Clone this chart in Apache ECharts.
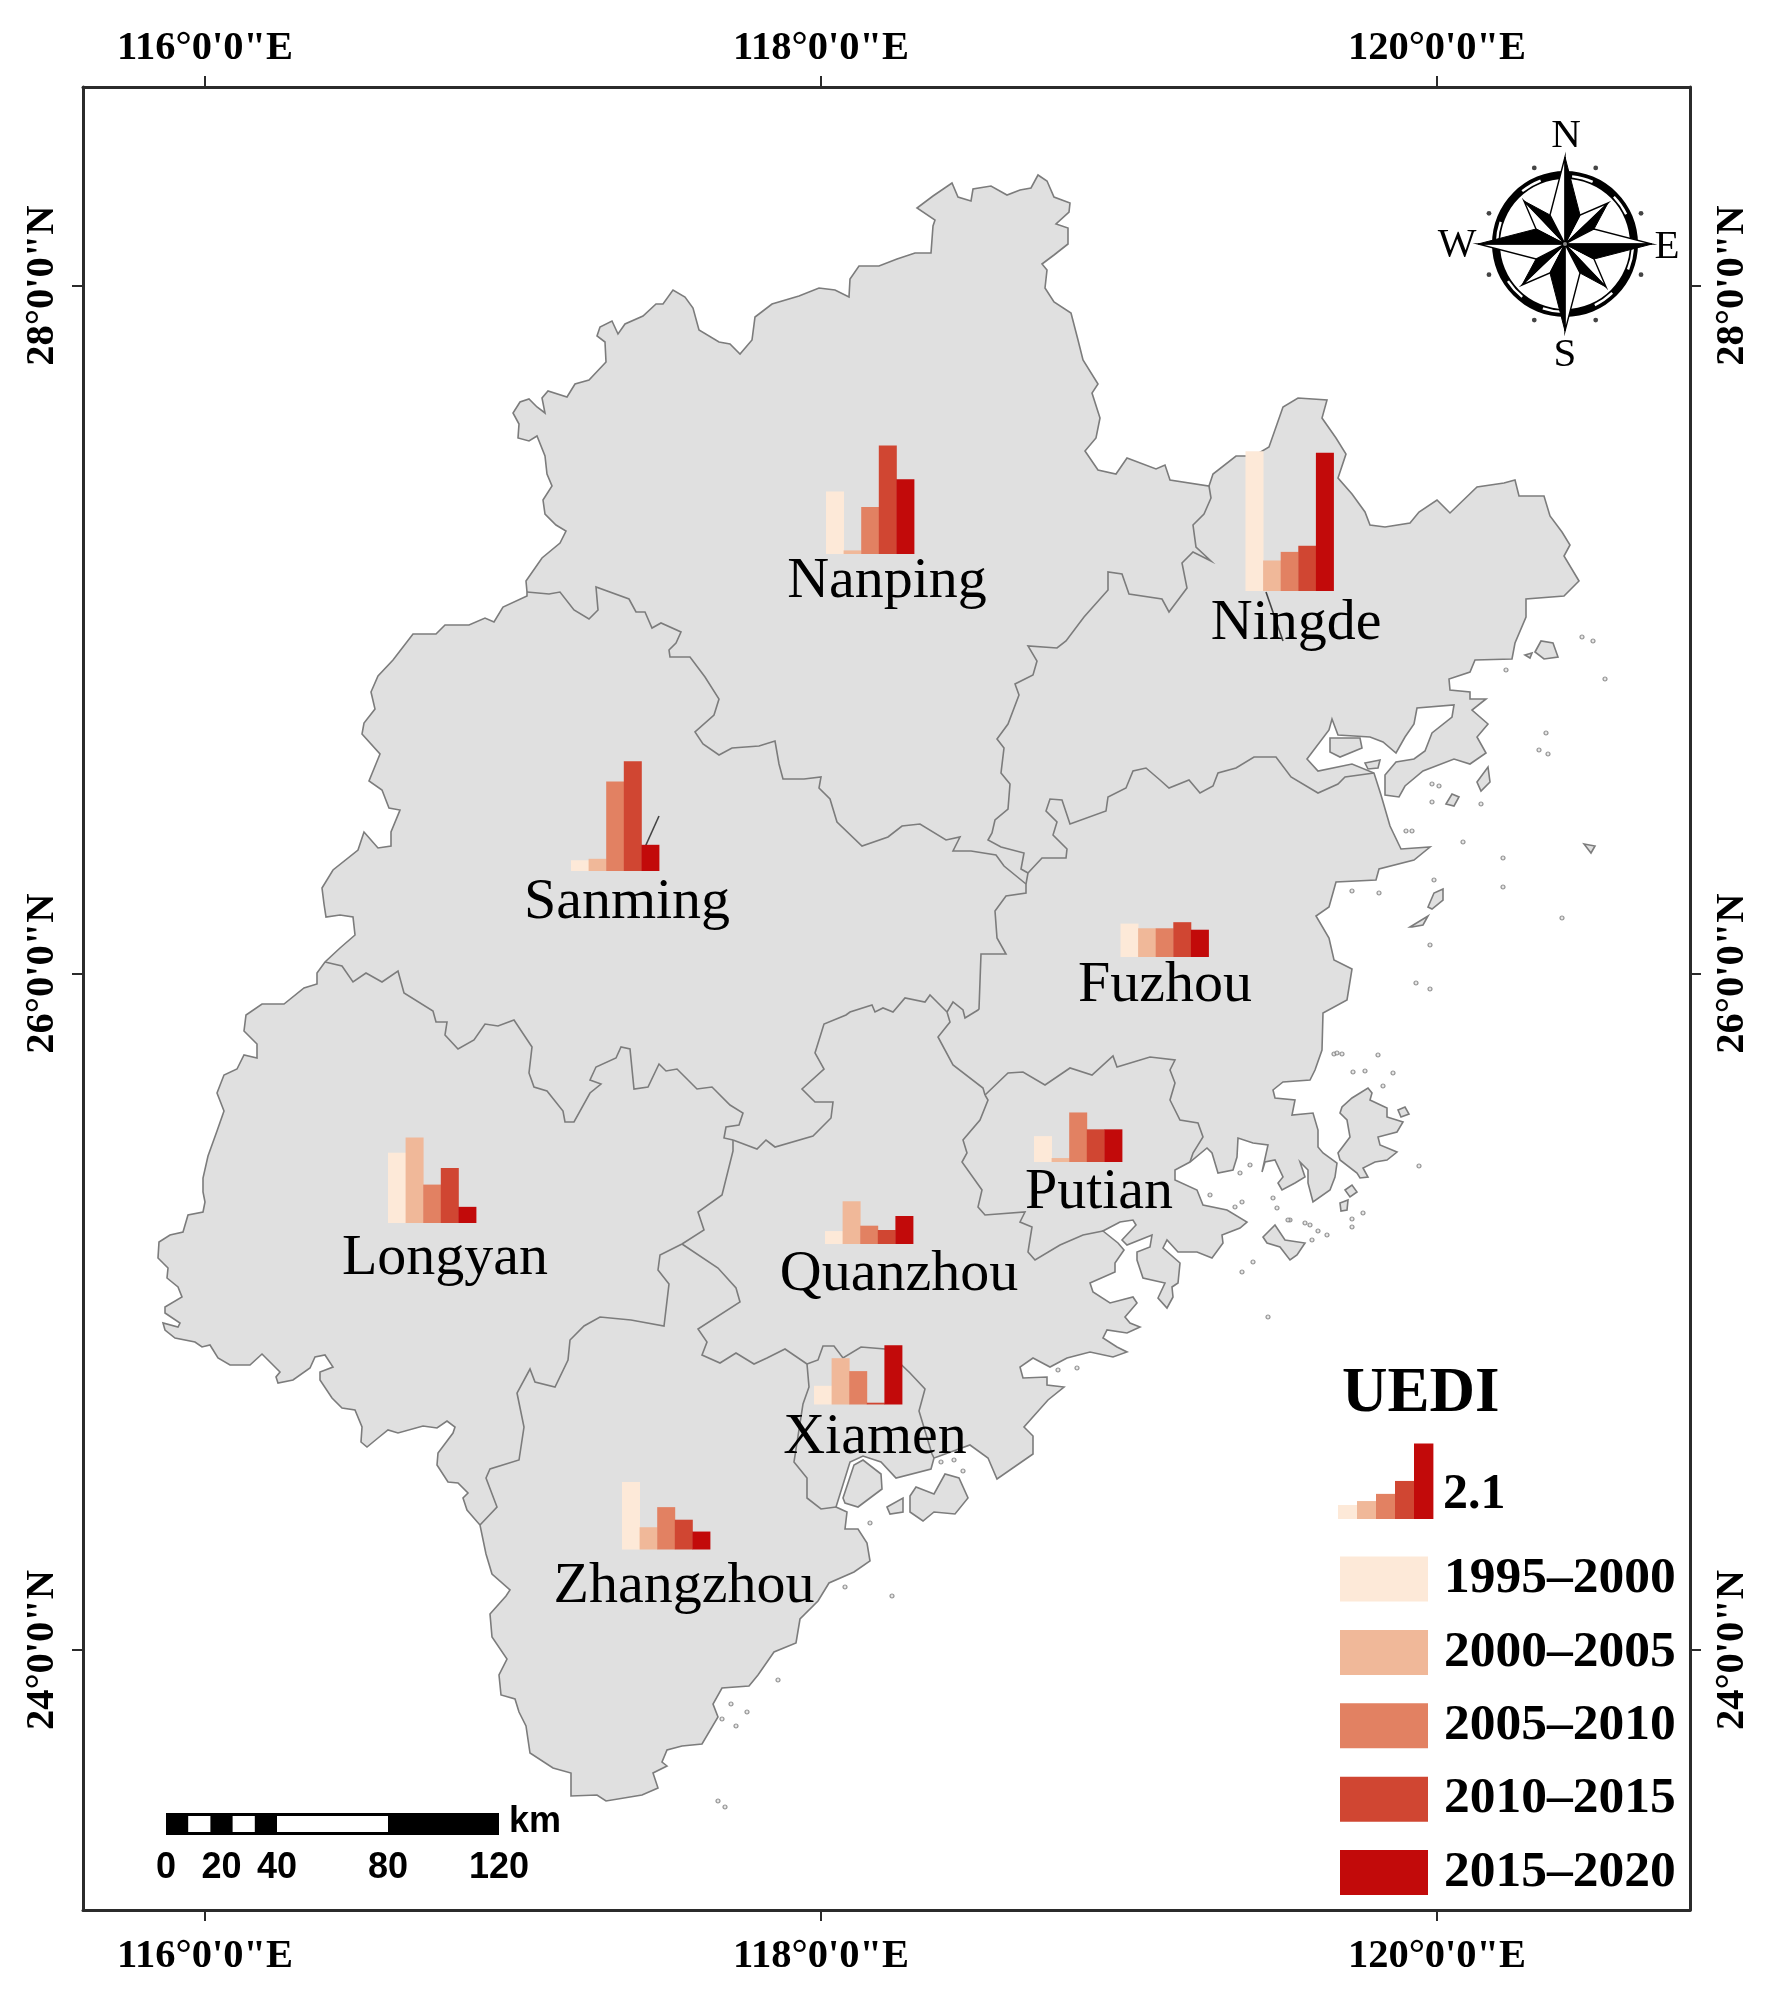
<!DOCTYPE html>
<html><head><meta charset="utf-8">
<style>html,body{margin:0;padding:0;background:#fff}#c{width:1771px;height:2000px}</style>
<script src="https://cdn.jsdelivr.net/npm/echarts@6/dist/echarts.min.js"></script>
</head><body><div id="c"></div>
<script>
// ---------- DATA ----------
const periods = ['1995–2000','2000–2005','2005–2010','2010–2015','2015–2020'];
const periodColors = ['#FDE9D8','#F0B899','#E28162','#D04632','#C20A0A'];
const cityNames = ['Nanping','Ningde','Sanming','Fuzhou','Putian','Longyan','Quanzhou','Xiamen','Zhangzhou'];
const uedi1995 = [1.74,3.89,0.30,0.93,0.72,1.96,0.36,0.52,1.88];
const uedi2000 = [0.10,0.85,0.34,0.80,0.11,2.38,1.19,1.29,0.62];
const uedi2005 = [1.31,1.09,2.49,0.80,1.38,1.07,0.51,0.93,1.18];
const uedi2010 = [3.02,1.26,3.06,0.97,0.91,1.53,0.39,0.05,0.83];
const uedi2015 = [2.08,3.85,0.73,0.76,0.91,0.45,0.78,1.65,0.50];
const keyValues = [0.39,0.50,0.70,1.06,2.10];
const lonTicks = [116,118,120];
const lonLabels = ['116°0\'0"E','118°0\'0"E','120°0\'0"E'];
const latTicks = [28,26,24];
const latLabels = ['28°0\'0"N','26°0\'0"N','24°0\'0"N'];
const scaleKm = [0,8,16,24,32,40,80,120];
const scaleLabels = [0,20,40,80,120];

// Map geometry, digitised in map-sheet units (converted to lon / Mercator northing below)
const barAnchors = [[826,554],[1245.5,591],[571,871],[1120.5,957],[1034,1162],[388,1223],[825,1244],[814,1404.5],[622,1549.5]];
const labelAnchors = [[887,598],[1296,640],[627,919],[1165,1002],[1099,1209],[445,1275],[899,1291],[875,1454],[684,1603]];
const keyAnchor = [1338,1519];
const outerCoast = [
527,592,526,581,542,558,560,543,566,531,556,525,545,514,543,500,552,486,547,474,545,456,537,436,529,441,518,438,519,424,513,413,520,402,529,399,537,407,545,413,542,398,548,391,567,397,575,384,589,380,606,362,605,342,597,336,600,327,612,321,618,334,625,324,643,316,656,304,663,304,673,290,685,297,693,308,699,330,719,342,730,344,740,354,752,340,755,317,772,304,799,296,819,288,835,290,849,297,850,279,859,266,879,266,897,259,915,253,931,253,933,226,935,220,917,208,933,196,952,183,958,197,971,201,973,189,991,186,1007,195,1020,190,1031,188,1038,175,1047,181,1054,197,1070,203,1069,212,1056,224,1068,228,1068,244,1054,255,1042,264,1047,270,1045,288,1054,302,1071,313,1078,340,1083,360,1098,384,1092,393,1100,418,1096,438,1085,451,1098,470,1116,474,1127,458,1156,469,1165,465,1170,480,1209,486,
1213,474,1236,456,1254,456,1269,447,1283,407,1298,398,1327,400,1322,418,1336,438,1346,454,1338,478,1352,494,1365,512,1370,525,1385,527,1410,523,1419,512,1437,500,1450,513,1477,487,1504,483,1515,480,1519,496,1544,496,1550,516,1562,532,1570,545,1564,556,1579,581,1564,596,1526,599,1526,617,1515,643,1512,659,1475,660,1470,672,1449,679,1450,690,1470,692,1470,699,1486,699,1472,710,1488,724,1477,737,1486,753,1470,764,1454,759,1423,771,1405,786,1399,797,1385,795,1385,775,1396,762,1414,759,1425,751,1432,733,1452,717,1454,705,1417,708,1414,724,1405,737,1396,753,1383,742,1370,737,1338,735,1332,719,1329,730,1307,759,1318,771,1352,764,1374,773,1381,795,1390,826,1401,849,1430,847,1414,860,1379,869,1376,880,1336,882,1329,907,1316,916,1329,938,1334,960,1352,969,1347,1000,1323,1013,1322,1050,1315,1070,1310,1080,1283,1082,1273,1090,1275,1098,1295,1100,1292,1115,1313,1113,1318,1130,1318,1147,1323,1153,1337,1163,1335,1177,1330,1190,1313,1202,1308,1183,1308,1170,1300,1162,1305,1177,1295,1183,1282,1190,1278,1183,1283,1177,1275,1160,1265,1162,1262,1172,1268,1145,1253,1143,1238,1138,1237,1157,1233,1170,1218,1173,1212,1153,1207,1148,1190,1162,1175,1170,1175,1180,1197,1190,1203,1205,1227,1210,1247,1222,1240,1228,1222,1235,1223,1243,1212,1258,1197,1252,1178,1252,1167,1240,1163,1248,1180,1263,1178,1283,1172,1287,1173,1297,1167,1308,1158,1298,1165,1283,1143,1278,1137,1260,1137,1252,1150,1247,1152,1235,1127,1245,1122,1240,1136,1225,1133,1220,1120,1222,1103,1231,1118,1243,1124,1250,1115,1263,1115,1272,1090,1283,1093,1292,1110,1303,1133,1297,1137,1303,1125,1317,1130,1323,1140,1327,1127,1333,1107,1330,1103,1338,1117,1347,1127,1352,1113,1357,1090,1352,1067,1358,1050,1367,1033,1358,1020,1367,1023,1378,1047,1377,1047,1385,1064,1387,1048,1400,1024,1427,1033,1436,1033,1454,997,1479,988,1458,970,1445,934,1458,931,1469,896,1478,881,1462,863,1456,850,1462,836,1507,847,1512,845,1529,858,1529,867,1543,870,1561,854,1572,829,1583,818,1601,800,1619,796,1643,774,1652,758,1675,749,1686,722,1688,713,1704,718,1717,702,1744,682,1746,667,1750,662,1762,667,1766,653,1773,658,1788,642,1795,606,1801,597,1795,571,1796,571,1773,553,1768,530,1753,526,1726,519,1712,515,1699,501,1695,499,1675,507,1659,492,1637,490,1614,506,1596,510,1590,492,1574,486,1554,480,1525,
467,1510,463,1498,468,1493,458,1483,448,1482,437,1465,438,1453,453,1433,455,1427,447,1421,437,1428,423,1426,398,1433,388,1430,378,1438,367,1447,361,1442,362,1427,355,1410,342,1408,332,1398,320,1380,320,1372,333,1367,325,1355,315,1357,310,1368,293,1380,278,1383,276,1377,280,1372,262,1354,250,1365,230,1365,218,1358,210,1345,202,1347,195,1342,175,1338,165,1330,163,1323,178,1327,180,1323,165,1313,165,1307,182,1297,178,1287,167,1278,168,1268,158,1258,159,1242,170,1235,183,1232,188,1215,203,1212,205,1202,203,1192,203,1178,208,1156,217,1131,224,1111,217,1093,224,1075,237,1069,244,1055,257,1058,257,1044,244,1031,246,1015,262,1004,284,1004,304,988,317,984,317,973,325,962,340,948,355,935,353,917,340,915,326,917,324,904,322,888,333,870,358,850,364,832,378,848,391,846,391,832,400,810,389,808,382,790,369,781,380,754,362,734,364,723,375,709,371,692,378,676,393,660,413,634,436,634,445,625,469,625,485,618,494,622,503,607,527,596];
const nanpingSanming = [527,592,549,594,560,592,574,610,589,619,598,610,596,587,629,599,636,612,645,612,652,628,661,623,681,632,676,643,669,650,670,657,690,657,705,677,719,699,714,715,695,732,703,744,719,755,732,748,759,746,775,741,779,764,783,779,804,779,821,777,819,788,830,799,837,822,862,846,888,837,902,826,920,824,946,840,960,837,953,851,971,851,996,855,1004,866,1026,884];
const nanpingNingde = [1209,486,1211,498,1204,514,1193,525,1196,547,1211,561,1193,552,1182,563,1187,588,1169,612,1162,599,1129,594,1122,574,1108,572,1108,590,1084,617,1066,641,1057,648,1028,646,1037,661,1033,675,1015,684,1019,695,1008,724,997,739,1004,748,1001,773,1010,784,1008,809,995,820,992,833,988,840,1001,847,1024,853,1021,869,1028,873,1026,884];
const sanmingFuzhou = [1026,884,1026,893,1006,896,995,911,997,938,1006,954,981,954,979,1009,978,1010,965,1018,963,1010,953,1002,947,1012];
const fuzhouNingde = [1028,873,1042,858,1066,858,1067,849,1053,835,1057,822,1046,811,1050,799,1062,800,1070,824,1106,811,1108,797,1126,788,1133,771,1146,768,1160,780,1169,788,1189,780,1200,793,1213,786,1218,773,1236,768,1254,757,1276,757,1291,777,1318,793,1338,784,1345,777,1374,773];
const sanmingQuanzhou = [947,1012,930,995,925,1002,905,998,893,1012,883,1008,875,1012,872,1005,850,1012,846,1015,824,1024,815,1053,824,1069,802,1089,815,1102,833,1102,831,1118,813,1136,775,1147,766,1140,757,1149,733,1140];
const sanmingLongyan = [325,962,342,966,353,982,366,973,382,982,398,971,404,993,433,1011,436,1022,447,1022,445,1035,458,1049,474,1040,485,1024,498,1026,514,1020,532,1047,529,1073,534,1087,547,1091,563,1111,565,1122,574,1122,590,1093,601,1084,590,1080,596,1067,616,1058,621,1047,630,1049,634,1089,648,1087,659,1064,666,1071,677,1069,697,1089,712,1087,730,1105,743,1113,739,1125,726,1127,724,1138,733,1140];
const longyanQuanzhou = [733,1140,733,1151,722,1195,698,1212,704,1230,682,1244];
const quanzhouZhangzhou = [682,1244,718,1268,736,1288,740,1302,698,1329,707,1342,702,1355,720,1363,736,1353,754,1364,767,1358,785,1349,807,1364];
const xiamenQuanzhou = [807,1364,818,1360,823,1346,834,1346,843,1358,861,1347,885,1349,910,1373,925,1389,919,1411,932,1454,934,1458];
const xiamenZhangzhou = [807,1364,809,1387,803,1404,794,1462,807,1478,807,1498,821,1509,836,1507];
const longyanZhangzhou = [682,1244,660,1255,658,1270,669,1284,664,1326,631,1320,600,1317,584,1326,570,1340,568,1360,555,1387,535,1382,530,1369,517,1393,524,1427,519,1460,490,1469,486,1478,497,1507,480,1525];
const fuzhouQuanzhou = [947,1012,950,1022,938,1037,953,1065,983,1088,985,1095];
const quanzhouPutian = [985,1095,988,1100,980,1120,963,1140,967,1153,962,1162,982,1190,978,1207,985,1215,1025,1212,1020,1222,1032,1227,1028,1252,1035,1260,1060,1245,1083,1235,1103,1231];
const fuzhouPutian = [985,1095,1008,1073,1023,1072,1045,1085,1070,1068,1092,1075,1113,1056,1117,1067,1150,1057,1175,1060,1170,1070,1175,1083,1170,1100,1180,1120,1198,1123,1203,1137,1193,1153,1190,1162];
const leaderLines = [[659,816,645.5,846],[1266,592,1283,641]];
const islands = [
[843,1498,854,1465,863,1460,881,1474,882,1489,858,1507,845,1503],
[910,1496,916,1487,934,1494,945,1474,959,1478,968,1498,955,1514,934,1512,923,1521,910,1512],
[887,1507,903,1498,903,1512,890,1514],
[1340,1113,1342,1107,1352,1098,1368,1088,1372,1093,1370,1100,1387,1108,1387,1117,1403,1122,1397,1132,1378,1137,1380,1145,1397,1152,1387,1160,1375,1162,1363,1168,1368,1177,1360,1178,1357,1173,1340,1160,1338,1153,1350,1137,1347,1120],
[1263,1237,1275,1225,1285,1240,1305,1243,1297,1255,1290,1260,1280,1247,1267,1243],
[1345,1190,1352,1185,1357,1192,1350,1197],[1340,1203,1348,1200,1347,1210,1341,1211],
[1398,1110,1405,1107,1409,1114,1401,1117],
[1535,652,1541,641,1553,643,1558,657,1544,659],[1525,655,1532,653,1530,658],
[1446,804,1452,794,1459,797,1454,806],[1477,782,1488,767,1490,782,1481,791],
[1410,927,1428,916,1423,925,1412,927],[1428,907,1434,893,1443,889,1443,900,1432,909],
[1584,844,1595,846,1591,853],
[1330,738,1360,738,1362,748,1340,757,1330,752],[1365,763,1380,760,1378,768,1368,769]];
const islets = [[1406,831],[1412,831],[1503,858],[1434,880],[1503,887],[1463,842],[1430,945],[1416,983],[1430,989],[1334,1054],[1342,1054],[1352,891],[1379,893],[1582,637],[1593,641],[1605,679],[1562,918],[1546,733],[1539,750],[1548,754],[1481,804],[1506,670],[1432,784],[1439,786],[1432,802],[1337,1053],[1353,1072],[1365,1071],[1393,1073],[1383,1086],[1419,1166],[1378,1055],[1273,1198],[1277,1208],[1290,1220],[1310,1225],[1318,1231],[1327,1235],[1352,1219],[1352,1227],[1363,1213],[1250,1165],[1240,1173],[1242,1272],[1253,1262],[1268,1317],[1210,1195],[1242,1202],[1235,1207],[1288,1220],[1305,1223],[1312,1240],[1058,1370],[1077,1368],[941,1462],[954,1460],[963,1471],[870,1523],[892,1596],[845,1587],[778,1680],[731,1704],[747,1712],[736,1726],[722,1719],[718,1801],[725,1807]];

// ---------- PROJECTION (sheet units -> lon / Mercator northing) ----------
const merc = lat => Math.log(Math.tan(Math.PI/4 + lat*Math.PI/360));
const mercPerUnit = (merc(28)-merc(24))/(1650-285.6);
const toLon = u => 116 + (u-205)/308;
const toNorth = v => merc(24) + (1650-v)*mercPerUnit;
const pairs = flat => { const o=[]; for(let i=0;i<flat.length;i+=2) o.push([toLon(flat[i]),toNorth(flat[i+1])]); return o; };

const FILL='#E0E0E0', LINE='#7C7C7C', SERIF='"Liberation Serif"', SANS='"Liberation Sans"';
const uediSeries = [uedi1995,uedi2000,uedi2005,uedi2010,uedi2015];
const UNITS_PER_UEDI = 35.9, CITY_BAR = 17.6, KEY_BAR = 19;

const areas = [outerCoast,...islands].map(pairs);
const lines = [nanpingSanming,nanpingNingde,sanmingFuzhou,fuzhouNingde,sanmingQuanzhou,sanmingLongyan,longyanQuanzhou,quanzhouZhangzhou,xiamenQuanzhou,xiamenZhangzhou,longyanZhangzhou,fuzhouQuanzhou,quanzhouPutian,fuzhouPutian].map(pairs);
const leaders = leaderLines.map(pairs);

const areaSeries = {type:'custom',name:'map',silent:true,z:1,encode:{x:0,y:1},
  data:areas.map((a,i)=>[a[0][0],a[0][1],i]),
  renderItem:(p,api)=>({type:'polygon',shape:{points:areas[api.value(2)].map(c=>api.coord(c))},style:{fill:FILL,stroke:LINE,lineWidth:1.6}})};
const isletSeries = {type:'scatter',name:'islets',silent:true,z:1,symbol:'circle',symbolSize:4,
  itemStyle:{color:FILL,borderColor:LINE,borderWidth:1.2},
  data:islets.map(p=>[toLon(p[0]),toNorth(p[1])])};
const lineSeries = {type:'custom',name:'boundaries',silent:true,z:2,encode:{x:0,y:1},
  data:lines.map((a,i)=>[a[0][0],a[0][1],i]),
  renderItem:(p,api)=>({type:'polyline',shape:{points:lines[api.value(2)].map(c=>api.coord(c))},style:{fill:null,stroke:LINE,lineWidth:1.6}})};
const leaderSeries = {type:'custom',name:'leaders',silent:true,z:3,encode:{x:0,y:1},
  data:leaders.map((a,i)=>[a[0][0],a[0][1],i]),
  renderItem:(p,api)=>({type:'polyline',shape:{points:leaders[api.value(2)].map(c=>api.coord(c))},style:{fill:null,stroke:'#444',lineWidth:1.6}})};

const barSeries = periods.map((name,k)=>({
  type:'custom',name,silent:true,z:4,itemStyle:{color:periodColors[k]},encode:{x:0,y:1},
  data:[...barAnchors.map((a,c)=>[toLon(a[0]+k*CITY_BAR),toNorth(a[1]),uediSeries[k][c],CITY_BAR/308]),
        [toLon(keyAnchor[0]+k*KEY_BAR),toNorth(keyAnchor[1]),keyValues[k],KEY_BAR/308]],
  renderItem:(p,api)=>{
    const a=api.coord([api.value(0),api.value(1)]);
    const b=api.coord([api.value(0)+api.value(3),api.value(1)+api.value(2)*UNITS_PER_UEDI*mercPerUnit]);
    return {type:'rect',shape:{x:a[0],y:b[1],width:b[0]-a[0]+0.4,height:a[1]-b[1]},style:{fill:periodColors[k]}};
  }}));

const labelSeries = {type:'custom',name:'cities',silent:true,z:5,encode:{x:0,y:1},
  data:labelAnchors.map((a,i)=>[toLon(a[0]),toNorth(a[1]),i]),
  renderItem:(p,api)=>{
    const c=api.coord([api.value(0),api.value(1)]);
    return {type:'text',style:{text:cityNames[api.value(2)],x:c[0],y:c[1]-16,align:'center',verticalAlign:'middle',fill:'#000',font:'58px '+SERIF}};
  }};

// ---------- DECORATION (compass, scale bar, key titles) ----------
const txt=(text,x,y,font,align='center')=>({type:'text',style:{text,x,y,align,verticalAlign:'middle',fill:'#000',font}});
function compass(cx,cy){
  const out=[];
  out.push({type:'ring',shape:{cx,cy,r:73,r0:65},style:{fill:'#000'}});
  [15,55,103,145,190,228,280,330].forEach(d=>{
    const s=(d-9-90)*Math.PI/180,e=(d+9-90)*Math.PI/180;
    out.push({type:'arc',shape:{cx,cy,r:68,startAngle:s,endAngle:e,clockwise:true},style:{stroke:'#fff',fill:null,lineWidth:2.4}});
  });
  [22,68,112,158,202,248,292,338].forEach(d=>{
    const a=(d-90)*Math.PI/180,x=cx+82*Math.cos(a),y=cy+82*Math.sin(a);
    out.push({type:'circle',shape:{cx:x,cy:y,r:2.4},style:{fill:'#444'}});
  });
  const rot=(x,y,q)=>{const c=Math.cos(q),s=Math.sin(q);return [cx+x*c-y*s,cy+x*s+y*c];};
  const spike=(tip,sideR,sideL,q)=>{
    out.push({type:'polygon',shape:{points:[rot(0,0,q),rot(tip[0],tip[1],q),rot(sideL[0],sideL[1],q)]},style:{fill:'#fff',stroke:'#000',lineWidth:1.4,lineJoin:'miter'}});
    out.push({type:'polygon',shape:{points:[rot(0,0,q),rot(tip[0],tip[1],q),rot(sideR[0],sideR[1],q)]},style:{fill:'#000',stroke:'#000',lineWidth:1}});
  };
  for(let i=0;i<4;i++) spike([43,-41],[29,-15],[15,-29],i*Math.PI/2);
  for(let i=0;i<4;i++) spike([0,-87],[15,-29],[-15,-29],i*Math.PI/2);
  out.push({type:'circle',shape:{cx,cy,r:2},style:{fill:'#888'}});
  const f='41px '+SERIF;
  out.push(txt('N',cx+1,136,f),txt('S',cx,355,f),txt('W',1457,245,f),txt('E',1667,247,f));
  return out;
}
function scaleBar(){
  const x0=166,pxKm=2.775,y=1813,h=22,out=[];
  out.push({type:'rect',shape:{x:x0,y,width:pxKm*120,height:h},style:{fill:'#000'}});
  for(let i=1;i<scaleKm.length-1;i+=2){
    const a=x0+scaleKm[i]*pxKm,b=x0+scaleKm[i+1]*pxKm;
    out.push({type:'rect',shape:{x:a,y:y+3,width:b-a,height:h-6},style:{fill:'#fff'}});
  }
  scaleLabels.forEach(k=>out.push(txt(String(k),x0+k*pxKm,1868,'bold 36px '+SANS)));
  out.push(txt('km',509,1822,'bold 36px '+SANS,'left'));
  return out;
}

const axisBase={type:'value',splitLine:{show:false},
  axisLine:{show:true,onZero:false,lineStyle:{color:'#2b2b2b',width:3}},
  axisTick:{show:true,length:11,inside:false,lineStyle:{color:'#2b2b2b',width:2}}};
const lonAxis=pos=>({...axisBase,position:pos,min:toLon(83),max:toLon(1690),
  axisTick:{...axisBase.axisTick,customValues:lonTicks},
  axisLabel:{customValues:lonTicks,margin:pos==='top'?18:26,fontFamily:SERIF,fontWeight:'bold',fontSize:40.5,color:'#000',
    formatter:v=>lonLabels[lonTicks.indexOf(Math.round(v))]}});
const northTicks=latTicks.map(merc);
const nearestLat=v=>{let b=0;northTicks.forEach((t,i)=>{if(Math.abs(t-v)<Math.abs(northTicks[b]-v))b=i;});return b;};
const latAxis=pos=>({...axisBase,position:pos,min:toNorth(1910),max:toNorth(87),
  axisTick:{...axisBase.axisTick,customValues:northTicks},
  axisLabel:{customValues:northTicks,rotate:90,margin:pos==='left'?20:22,fontFamily:SERIF,fontWeight:'bold',fontSize:40.5,color:'#000',
    formatter:v=>latLabels[nearestLat(v)]}});

const chart=echarts.init(document.getElementById('c'),null,{renderer:'canvas',width:1771,height:2000});
chart.setOption({
  animation:false,backgroundColor:'#fff',
  grid:{left:83,right:81,top:87,bottom:90,containLabel:false},
  xAxis:[lonAxis('bottom'),lonAxis('top')],
  yAxis:[latAxis('left'),latAxis('right')],
  legend:{show:true,orient:'vertical',left:1340,top:1546.5,padding:0,icon:'rect',itemWidth:88,itemHeight:45,itemGap:8.4,selectedMode:false,
    data:periods,
    textStyle:{fontFamily:SERIF,fontWeight:'bold',fontSize:51.5,color:'#000',lineHeight:45,height:45,padding:[20,0,0,11]}},
  series:[areaSeries,isletSeries,lineSeries,leaderSeries,...barSeries,labelSeries],
  graphic:{elements:[
    ...compass(1565,244),...scaleBar(),
    txt('UEDI',1342,1395,'bold 63px '+SERIF,'left'),
    txt('2.1',1443,1495,'bold 50px '+SERIF,'left')
  ].map(e=>({...e,z:10}))}
});
</script></body></html>
